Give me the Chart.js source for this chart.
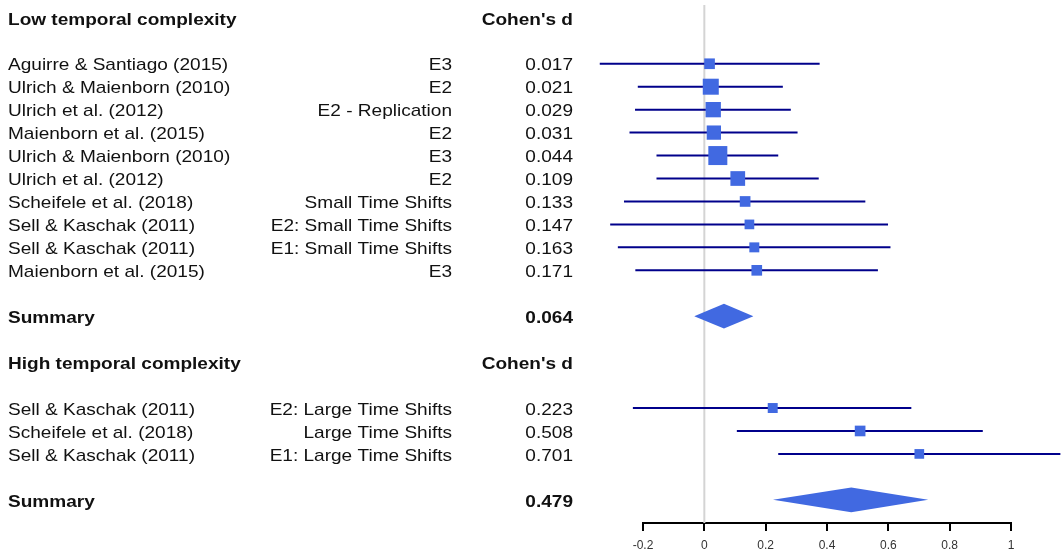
<!DOCTYPE html>
<html>
<head>
<meta charset="utf-8">
<script src="https://cdn.jsdelivr.net/npm/chart.js@4"></script>
<style>
  html, body { margin: 0; padding: 0; background: #fff; }
  #wrap { width: 1062px; height: 552px; position: relative; }
</style>
</head>
<body>
<div id="wrap"><canvas id="forest"></canvas></div>
<script>
// low temporal complexity studies
const lowStudies = ['Aguirre & Santiago (2015)', 'Ulrich & Maienborn (2010)', 'Ulrich et al. (2012)',
    'Maienborn et al. (2015)', 'Ulrich & Maienborn (2010)', 'Ulrich et al. (2012)',
    'Scheifele et al. (2018)', 'Sell & Kaschak (2011)', 'Sell & Kaschak (2011)', 'Maienborn et al. (2015)'];
const lowExperiments = ['E3', 'E2', 'E2 - Replication', 'E2', 'E3', 'E2',
    'Small Time Shifts', 'E2: Small Time Shifts', 'E1: Small Time Shifts', 'E3'];
const lowD = [0.017, 0.021, 0.029, 0.031, 0.044, 0.109, 0.133, 0.147, 0.163, 0.171];
const lowLower = [-0.341, -0.217, -0.226, -0.244, -0.156, -0.156, -0.262, -0.307, -0.282, -0.225];
const lowUpper = [0.376, 0.256, 0.282, 0.304, 0.241, 0.373, 0.525, 0.599, 0.607, 0.566];
const lowWeights = [6.3, 14.2, 13.0, 11.3, 20.0, 12.0, 6.3, 5.2, 5.5, 6.3];

// high temporal complexity studies
const highStudies = ['Sell & Kaschak (2011)', 'Scheifele et al. (2018)', 'Sell & Kaschak (2011)'];
const highExperiments = ['E2: Large Time Shifts', 'Large Time Shifts', 'E1: Large Time Shifts'];
const highD = [0.223, 0.508, 0.701];
const highLower = [-0.233, 0.106, 0.241];
const highUpper = [0.675, 0.908, 1.161];
const highWeights = [5.5, 6.3, 5.2];

// pooled estimates, one per group
const groupTitles = ['Low temporal complexity', 'High temporal complexity'];
const summaryD = [0.064, 0.479];
const summaryLower = [-0.033, 0.224];
const summaryUpper = [0.160, 0.730];

const xTicks = [-0.2, 0, 0.2, 0.4, 0.6, 0.8, 1];

const FONT = '"Liberation Sans", Arial, Helvetica, sans-serif';
const SQUARE = '#4169e1';
const WHISKER = '#00008b';
const DIAMOND_H = 0.54;
const TEXT_STRETCH = 1.12;

// lay the rows out top to bottom
const rows = [];
let r = 0;
const groups = [
    {studies: lowStudies, exps: lowExperiments, d: lowD, lo: lowLower, hi: lowUpper, w: lowWeights},
    {studies: highStudies, exps: highExperiments, d: highD, lo: highLower, hi: highUpper, w: highWeights}
];
groups.forEach((g, gi) => {
    rows.push({kind: 'header', y: r, text: groupTitles[gi]});
    r += 2;
    for (let i = 0; i < g.studies.length; i++) {
        rows.push({kind: 'study', y: r, study: g.studies[i], exp: g.exps[i],
            d: g.d[i], lo: g.lo[i], hi: g.hi[i], w: g.w[i]});
        r += 1;
    }
    r += 1;
    rows.push({kind: 'summary', y: r, d: summaryD[gi], lo: summaryLower[gi], hi: summaryUpper[gi]});
    r += 2;
});
const lastRow = r - 2;

const studyRows = rows.filter(x => x.kind === 'study');
const summaryRows = rows.filter(x => x.kind === 'summary');

let ciData = [];
studyRows.forEach(s => {
    ciData.push({x: s.lo, y: s.y}, {x: s.hi, y: s.y}, {x: null, y: null});
});

const squareData = studyRows.map(s => ({x: s.d, y: s.y}));
const squareRadius = studyRows.map(s => 19 * Math.sqrt(s.w / 20) / Math.SQRT2);

const datasets = [
    {
        type: 'scatter', data: squareData, pointStyle: 'rect', pointRadius: squareRadius,
        backgroundColor: SQUARE, borderWidth: 0, order: 0, clip: false
    },
    {
        type: 'line', data: ciData, borderColor: WHISKER, borderWidth: 2, pointRadius: 0,
        spanGaps: false, fill: false, order: 1, clip: false
    }
];

// diamonds: upper half filled down to the lower half
summaryRows.forEach(s => {
    datasets.push({
        type: 'line', order: 1, clip: false, pointRadius: 0, borderWidth: 0,
        backgroundColor: SQUARE, fill: '+1',
        data: [{x: s.lo, y: s.y}, {x: s.d, y: s.y - DIAMOND_H}, {x: s.hi, y: s.y}]
    });
    datasets.push({
        type: 'line', order: 1, clip: false, pointRadius: 0, borderWidth: 0,
        backgroundColor: SQUARE, fill: false,
        data: [{x: s.lo, y: s.y}, {x: s.d, y: s.y + DIAMOND_H}, {x: s.hi, y: s.y}]
    });
});

const yTop = -0.56;
const yBottom = lastRow + 1.01;

datasets.push({
    type: 'line', order: 5, clip: false, pointRadius: 0, borderColor: '#d4d4d4', borderWidth: 2,
    fill: false, data: [{x: 0, y: yTop}, {x: 0, y: yBottom}]
});

function putText(ctx, text, x, y, align) {
    ctx.save();
    ctx.translate(x, y);
    ctx.scale(TEXT_STRETCH, 1);
    ctx.textAlign = align;
    ctx.fillText(text, 0, 0);
    ctx.restore();
}

// text columns on the left
const tableText = {
    id: 'tableText',
    afterDraw(chart) {
        const ctx = chart.ctx;
        const ys = chart.scales.y;
        ctx.save();
        ctx.fillStyle = '#111';
        ctx.textBaseline = 'middle';
        rows.forEach(row => {
            const py = ys.getPixelForValue(row.y) + 2;
            if (row.kind === 'header') {
                ctx.font = 'bold 17px ' + FONT;
                putText(ctx, row.text, 8, py, 'left');
                putText(ctx, "Cohen's d", 573, py, 'right');
            } else if (row.kind === 'study') {
                ctx.font = '17px ' + FONT;
                putText(ctx, row.study, 8, py, 'left');
                putText(ctx, row.exp, 452, py, 'right');
                putText(ctx, row.d.toFixed(3), 573, py, 'right');
            } else {
                ctx.font = 'bold 17px ' + FONT;
                putText(ctx, 'Summary', 8, py, 'left');
                putText(ctx, row.d.toFixed(3), 573, py, 'right');
            }
        });
        ctx.restore();
    }
};

const chart = new Chart(document.getElementById('forest'), {
    type: 'scatter',
    data: {datasets: datasets},
    options: {
        responsive: true,
        maintainAspectRatio: false,
        animation: false,
        layout: {autoPadding: false, padding: {left: 643, right: 51, top: 5, bottom: 0}},
        plugins: {legend: {display: false}, tooltip: {enabled: false}},
        scales: {
            x: {
                type: 'linear',
                min: xTicks[0],
                max: xTicks[xTicks.length - 1],
                afterBuildTicks: axis => { axis.ticks = xTicks.map(v => ({value: v})); },
                afterFit: axis => { axis.height = 29; },
                border: {display: true, color: '#000', width: 2},
                grid: {drawOnChartArea: false, drawTicks: true, tickLength: 8, color: '#000', lineWidth: 2},
                ticks: {
                    padding: 7,
                    color: '#333',
                    font: {family: FONT, size: 12},
                    callback: v => String(Number(v.toFixed(1)))
                }
            },
            y: {
                type: 'linear',
                display: false,
                reverse: true,
                min: yTop,
                max: yBottom
            }
        }
    },
    plugins: [tableText]
});
</script>
</body>
</html>
